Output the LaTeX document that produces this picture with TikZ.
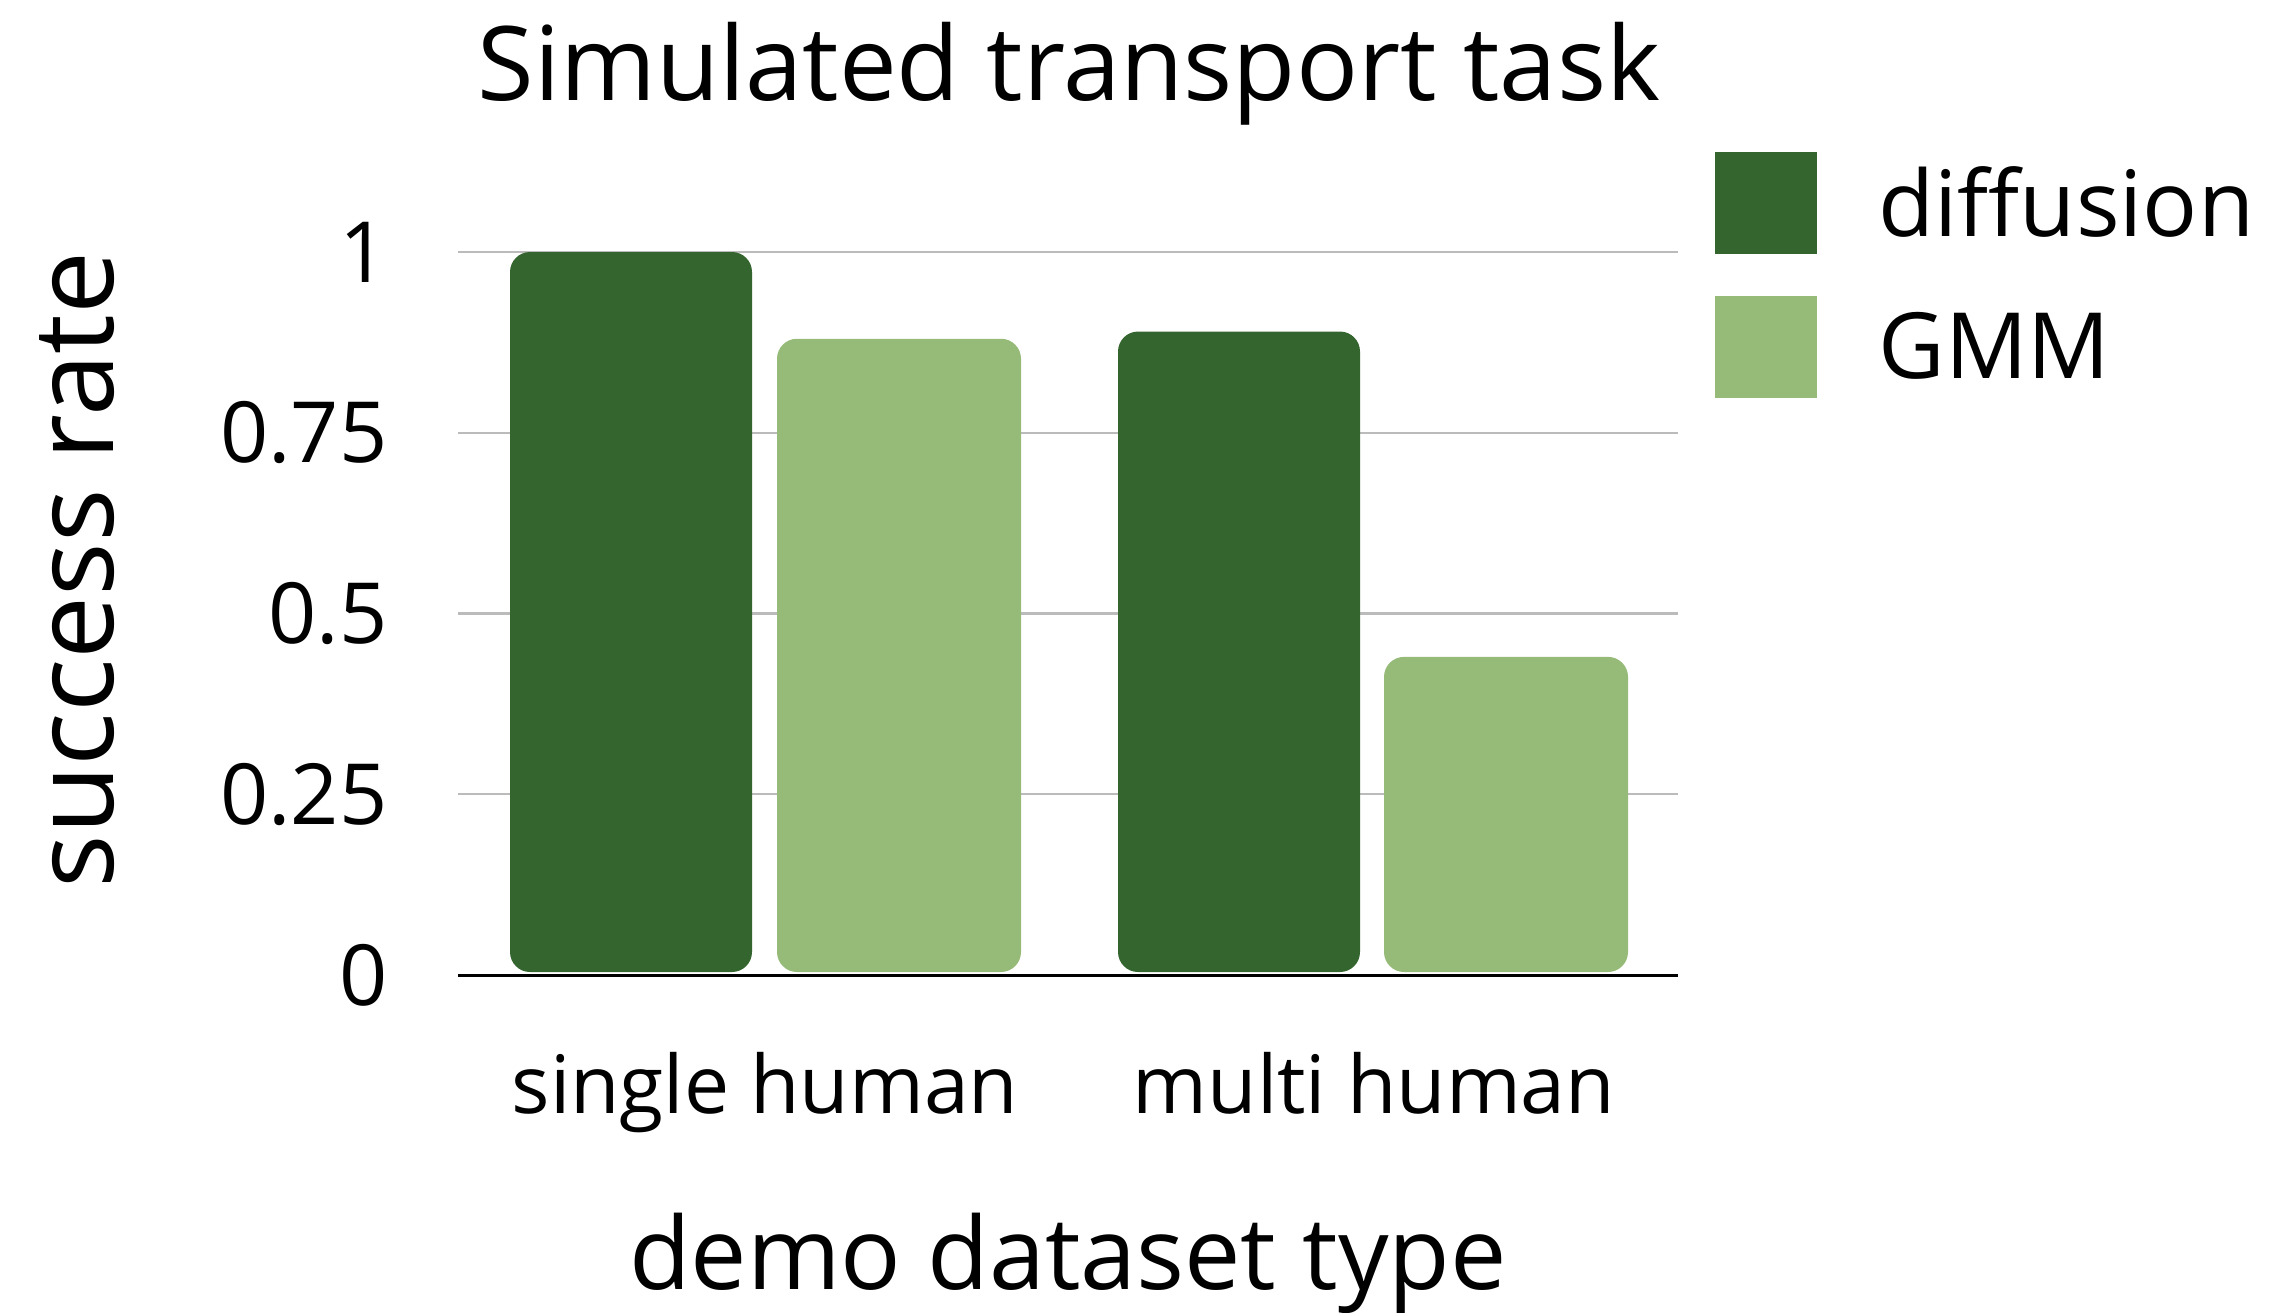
\documentclass[tikz,border=0pt]{standalone}
\usepackage{fontspec}
\setmainfont{Open Sans}
\definecolor{diffgreen}{HTML}{35652E}
\definecolor{gmmgreen}{HTML}{96BA77}
\definecolor{gridgray}{HTML}{BBBBBB}
\begin{document}
\begin{tikzpicture}[x=0.01cm, y=-0.01cm, line join=round,
  lab/.style={inner sep=0pt, anchor=base},
  titlelab/.style={lab, font=\fontsize{29.3pt}{35pt}\selectfont},
  leglab/.style={lab, anchor=base west, font=\fontsize{26pt}{31pt}\selectfont},
  ticklab/.style={inner sep=0pt, anchor=east, font=\fontsize{24pt}{29pt}\selectfont},
  catlab/.style={lab, font=\fontsize{22.9pt}{27pt}\selectfont},
  axislab/.style={lab, font=\fontsize{28.6pt}{34pt}\selectfont},
  ylab/.style={lab, rotate=90, font=\fontsize{31.9pt}{38pt}\selectfont},
  bar/.style={rounded corners=0.2cm}]
\useasboundingbox (0,0) rectangle (2273,1312);
\def\xl{458} \def\xr{1678}
\def\yo{975} \def\yh{723}
% grid and ticks
\foreach \v in {0.25,0.5,0.75,1}
\draw[gridgray, line width=0.6pt] (\xl,{\yo-\yh*\v}) -- (\xr,{\yo-\yh*\v});
\foreach \v [count=\i] in {0,0.25,0.5,0.75,1}
\node[ticklab] (tick\i) at (388,{\yo-\yh*\v}) {\v};
% bars
\foreach \xa/\xb/\v/\c in {510/752/1/diffgreen, 777/1021/0.88/gmmgreen,
  1118/1360/0.89/diffgreen, 1384/1628/0.44/gmmgreen}
\fill[\c, bar] (\xa,972) rectangle (\xb,{\yo-\yh*\v});
\draw[line width=0.85pt] (\xl,\yo) -- (\xr,\yo);
% labels
\node[titlelab] (title) at (1069,100) {Simulated transport task};
\node[catlab] (single) at (765,1113) {single human};
\node[catlab] (multi) at (1374,1113) {multi human};
\node[axislab] (xtitle) at (1068,1289) {demo dataset type};
\node[ylab] (ytitle) at (113,570) {success rate};
% legend
\fill[diffgreen] (1715,152) rectangle (1817,254);
\fill[gmmgreen] (1715,296) rectangle (1817,398);
\node[leglab] (legdiff) at (1878,236) {diffusion};
\node[leglab] (leggmm) at (1878,378) {GMM};
\end{tikzpicture}
\end{document}
